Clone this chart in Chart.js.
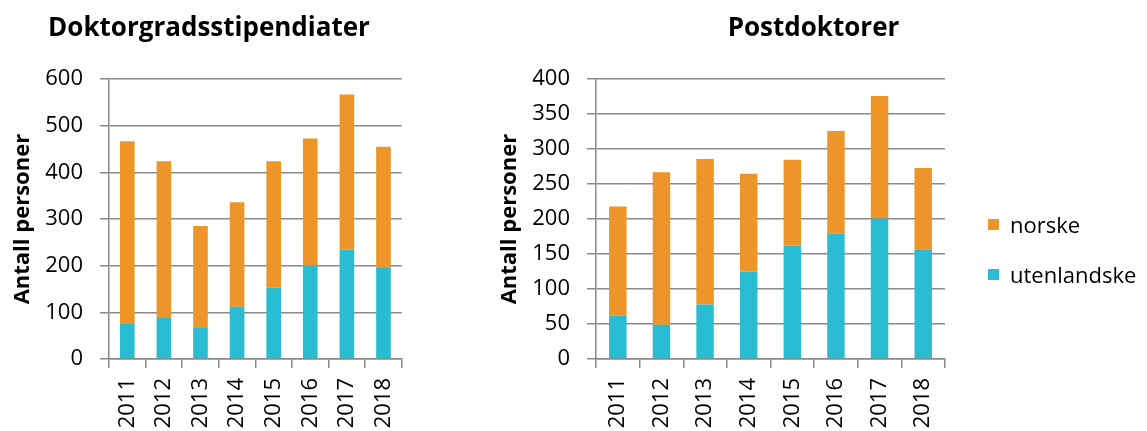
<!DOCTYPE html>
<html>
<head>
<meta charset="utf-8">
<script src="https://cdn.jsdelivr.net/npm/chart.js@4.4.1/dist/chart.umd.min.js"></script>
<style>
  body { margin: 0; background: #fff; }
  #wrap { position: relative; width: 1147px; height: 431px; overflow: hidden; }
  #c1 { position: absolute; left: 0; top: 0; }
  #c2 { position: absolute; left: 480px; top: 0; }
  #legend { position: absolute; left: 988px; top: 208px; margin: 0; padding: 0; list-style: none;
            font-family: 'Open Sans', sans-serif; font-size: 22px; color: #000; }
  #legend li { display: flex; align-items: center; height: 32px; margin-bottom: 18px; white-space: nowrap; }
  #legend span.box { display: inline-block; width: 11px; height: 11px; margin-right: 11px; }
</style>
</head>
<body>
<div id="wrap">
  <canvas id="c1" width="420" height="431"></canvas>
  <canvas id="c2" width="667" height="431"></canvas>
  <ul id="legend"></ul>
</div>
<script>
// data
const years = ["2011", "2012", "2013", "2014", "2015", "2016", "2017", "2018"];

const phdUtenlandske = [75, 88, 68, 112, 153, 200, 235, 195];
const phdNorske = [392, 336, 217, 224, 271, 273, 332, 260];

const postdocUtenlandske = [62, 49, 78, 125, 162, 179, 201, 157];
const postdocNorske = [156, 218, 208, 140, 123, 147, 175, 116];

const orange = "#ED9528";
const cyan = "#29BCD3";
const gridGray = "#8a8a8a";

Chart.defaults.font.family = "'Open Sans', sans-serif";
Chart.defaults.color = "#000";

function makeChart(canvasId, title, utenl, norske, yMax, yStep, yWidth, yTitlePad, rightSpace) {
  const ctx = document.getElementById(canvasId);
  const scales = {
    x: {
      stacked: true,
      afterFit: s => { s.height = 72; },
      grid: { display: true, drawOnChartArea: false, drawTicks: true, tickLength: 9, offset: true, color: gridGray, lineWidth: 1.5 },
      border: { display: true, color: gridGray, width: 1.5 },
      ticks: { autoSkip: false, minRotation: 90, maxRotation: 90, padding: 10, font: { size: 22 } }
    },
    y: {
      stacked: true,
      min: 0,
      max: yMax,
      afterFit: s => { s.width = yWidth; },
      grid: { color: gridGray, lineWidth: 1.5, tickLength: 9 },
      border: { display: true, color: gridGray, width: 1.5 },
      ticks: { stepSize: yStep, padding: 17, font: { size: 22 } },
      title: { display: true, text: "Antall personer", font: { size: 22, weight: "bold" }, padding: { top: yTitlePad, bottom: 0 } }
    }
  };
  if (rightSpace) {
    // empty axis on the right, only to keep room for the legend
    scales.side = {
      type: "linear",
      position: "right",
      afterFit: s => { s.width = rightSpace; },
      grid: { display: false },
      border: { display: false },
      ticks: { display: false }
    };
  }
  return new Chart(ctx, {
    type: "bar",
    data: {
      labels: years,
      datasets: [
        { label: "utenlandske", data: utenl, backgroundColor: cyan, borderWidth: 0, categoryPercentage: 1, barPercentage: 0.4 },
        { label: "norske", data: norske, backgroundColor: orange, borderWidth: 0, categoryPercentage: 1, barPercentage: 0.4 }
      ]
    },
    options: {
      responsive: false,
      animation: false,
      layout: { padding: { left: 0, right: rightSpace ? 0 : 2, top: 0, bottom: 0 } },
      plugins: {
        legend: { display: false },
        tooltip: { enabled: false },
        title: {
          display: true,
          text: title,
          color: "#000",
          font: { size: 26, weight: "bold" },
          padding: { top: 13, bottom: 35 }
        }
      },
      scales
    }
  });
}

makeChart("c1", "Doktorgradsstipendiater", phdUtenlandske, phdNorske, 600, 100, 109, 10, 0);
const postChart = makeChart("c2", "Postdoktorer", postdocUtenlandske, postdocNorske, 400, 50, 116, 17, 202);

// legend (norske on top, like the stacking)
const ul = document.getElementById("legend");
postChart.data.datasets.slice().reverse().forEach(ds => {
  const li = document.createElement("li");
  const box = document.createElement("span");
  box.className = "box";
  box.style.background = ds.backgroundColor;
  li.appendChild(box);
  li.appendChild(document.createTextNode(ds.label));
  ul.appendChild(li);
});
</script>
</body>
</html>
